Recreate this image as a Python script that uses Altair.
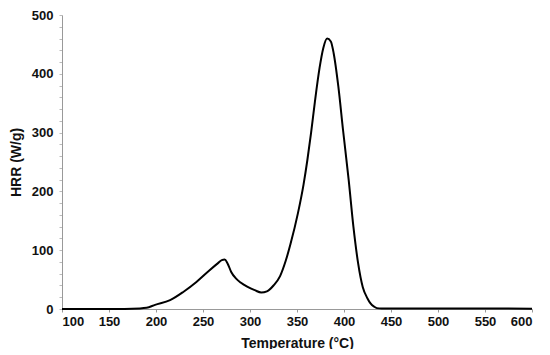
import altair as alt
import pandas as pd

temperature = [100, 150, 183, 190, 199, 215, 229, 243, 257, 266, 270, 273, 276, 280, 285,
               290, 297, 305, 312, 318, 325, 332, 338, 343, 351, 357, 361, 365, 369,
               374, 378, 382, 386, 389, 394, 399, 405, 410, 415, 420, 425, 428, 432, 435,
               440, 500, 600]
hrr = [0, 0, 1, 2, 7, 15, 29, 46, 66, 78, 83, 84, 78, 63, 52,
       45, 38, 32, 28, 30, 40, 56, 82, 110, 163, 212, 253, 300, 352,
       410, 444, 460, 455, 435, 378, 304, 219, 140, 78, 37, 18, 10, 4, 1.5,
       1, 1, 0.5]

df = pd.DataFrame({"T": temperature, "HRR": hrr})

font = "Liberation Sans"

chart = alt.Chart(df).mark_line(color="black", strokeWidth=2, interpolate="monotone").encode(
    x=alt.X("T:Q", title="Temperature (°C)",
            scale=alt.Scale(domain=[100, 600], nice=False, zero=False),
            axis=alt.Axis(values=list(range(100, 601, 50)), grid=False,
                          domainColor="#999999", tickColor="#999999", tickSize=3,
                          labelFont=font, labelFontSize=13, labelFontWeight="bold",
                          labelColor="#111111", labelPadding=3,
                          titleFont=font, titleFontSize=14, titleFontWeight="bold",
                          titleColor="#111111", titlePadding=8)),
    y=alt.Y("HRR:Q", title="HRR (W/g)",
            scale=alt.Scale(domain=[0, 500], nice=False),
            axis=alt.Axis(values=list(range(0, 501, 20)),
                          labelExpr="datum.value % 100 == 0 ? datum.label : ''",
                          grid=False,
                          domainColor="#999999", tickColor="#bbbbbb", tickSize=3,
                          labelFont=font, labelFontSize=13, labelFontWeight="bold",
                          labelColor="#111111", labelPadding=6,
                          titleFont=font, titleFontSize=14, titleFontWeight="bold",
                          titleColor="#111111", titlePadding=8)),
).properties(
    width=470, height=294,
    autosize=alt.AutoSizeParams(type="none"),
    padding={"left": 54, "top": 7, "right": 10, "bottom": 40},
).configure_view(stroke=None)

chart.save("out.html", embed_options={"renderer": "svg", "actions": False})
